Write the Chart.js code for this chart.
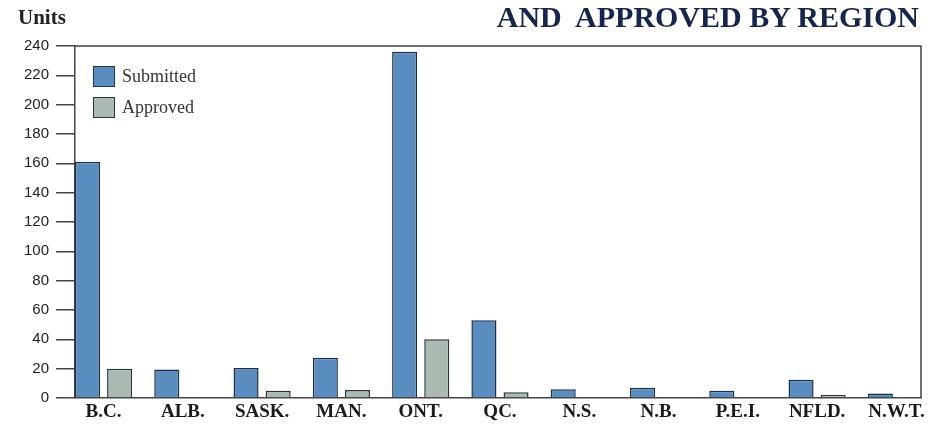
<!DOCTYPE html>
<html lang="en">
<head>
<meta charset="UTF-8">
<title>Submitted and Approved by Region</title>
<script src="https://cdn.jsdelivr.net/npm/chart.js"></script>
<style>
    html, body { margin: 0; padding: 0; background: #fff; }
    #wrap { position: relative; width: 928px; height: 425px; overflow: hidden; }
    #units { position: absolute; left: 18px; top: 5px; font: bold 21px "Liberation Serif", serif; color: #222; }
    #title { position: absolute; right: 9px; top: 0px; font: bold 30px "Liberation Serif", serif; color: #16254f; white-space: pre; }
    #legend { position: absolute; left: 93px; top: 61px; font: 18px "Liberation Serif", serif; color: #333; }
    #legend div { display: flex; align-items: center; height: 31px; }
    #legend span.box { display: inline-block; width: 20px; height: 19px; border: 1.5px solid #2a3340; margin-right: 7px; }
</style>
</head>
<body>
<div id="wrap">
    <canvas id="regionChart" width="928" height="425"></canvas>
    <div id="units">Units</div>
    <div id="title">AND  APPROVED BY REGION</div>
    <div id="legend">
        <div><span class="box" style="background:#5a8dbf"></span>Submitted</div>
        <div><span class="box" style="background:#a9bbb1"></span>Approved</div>
    </div>
</div>

<script>
    // Values
    const regions = ['B.C.', 'ALB.', 'SASK.', 'MAN.', 'ONT.', 'QC.', 'N.S.', 'N.B.', 'P.E.I.', 'NFLD.', 'N.W.T.'];
    const submitted = [161, 19.5, 20.5, 27.5, 236, 53, 6, 7, 5, 12.5, 3];
    const approved = [20, 0, 5, 5.5, 40, 4, 0, 0, 0, 2, 0];
    const yTicks = [0, 20, 40, 60, 80, 100, 120, 140, 160, 180, 200, 220, 240];

    // Outline the plot box (top and right edges)
    const boxPlugin = {
        id: 'plotBox',
        afterDraw(chart) {
            const a = chart.chartArea;
            const ctx = chart.ctx;
            ctx.save();
            ctx.strokeStyle = '#444';
            ctx.lineWidth = 1.5;
            ctx.beginPath();
            ctx.moveTo(a.left, a.top);
            ctx.lineTo(a.right, a.top);
            ctx.lineTo(a.right, a.bottom);
            ctx.stroke();
            ctx.restore();
        }
    };

    const ctx = document.getElementById('regionChart').getContext('2d');
    new Chart(ctx, {
        type: 'bar',
        data: {
            datasets: [
                {
                    label: 'Submitted',
                    data: regions.map((r, i) => ({ x: i, y: submitted[i] })),
                    backgroundColor: '#5a8dbf',
                    borderColor: '#1d2e48',
                    borderWidth: 1.5,
                    categoryPercentage: 0.81,
                    barPercentage: 0.78
                },
                {
                    label: 'Approved',
                    data: regions.map((r, i) => ({ x: i, y: approved[i] })),
                    backgroundColor: '#a9bbb1',
                    borderColor: '#2a3340',
                    borderWidth: 1.5,
                    categoryPercentage: 0.81,
                    barPercentage: 0.78
                }
            ]
        },
        options: {
            responsive: false,
            animation: false,
            layout: { padding: { top: 46, right: 7, left: 0, bottom: 0 } },
            plugins: {
                legend: { display: false },
                tooltip: { enabled: false }
            },
            scales: {
                x: {
                    type: 'linear',
                    offset: false,
                    min: -0.36,
                    max: 10.31,
                    grid: { display: false, drawTicks: false },
                    border: { color: '#444', width: 1.5 },
                    ticks: {
                        stepSize: 1,
                        includeBounds: false,
                        autoSkip: false,
                        maxRotation: 0,
                        padding: 3,
                        color: '#1a1a1a',
                        font: { family: 'Liberation Serif', size: 19, weight: 'bold' },
                        callback: (v) => regions[v]
                    },
                    afterFit(scale) { scale.height = 27; }
                },
                y: {
                    min: 0,
                    max: 240,
                    afterBuildTicks(scale) { scale.ticks = yTicks.map(v => ({ value: v })); },
                    grid: { drawOnChartArea: false, drawTicks: true, tickLength: 19, color: '#444', lineWidth: 1.5 },
                    border: { color: '#444', width: 1.5 },
                    ticks: {
                        padding: 7,
                        color: '#222',
                        font: { family: 'Liberation Sans', size: 15 }
                    },
                    afterFit(scale) { scale.width = 75; }
                }
            }
        },
        plugins: [boxPlugin]
    });
</script>
</body>
</html>
